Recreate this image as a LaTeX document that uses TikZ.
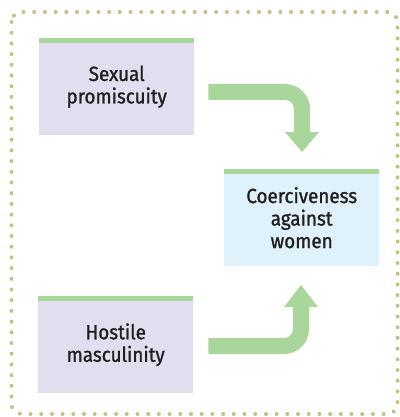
\documentclass[tikz,border=0pt]{standalone}
\usepackage{fontspec}
\setmainfont{Fira Sans}[FakeBold=1.2, FakeStretch=0.92]
\definecolor{boxpurple}{HTML}{E0DEEF}
\definecolor{boxblue}{HTML}{DFF1FB}
\definecolor{bargreen}{HTML}{A8D69B}
\definecolor{dotcol}{HTML}{C6BF88}
\definecolor{txt}{HTML}{231F20}
\begin{document}
\begin{tikzpicture}[x=1pt,y=-1pt,
  box/.style={minimum width=155pt, minimum height=97pt, inner sep=0pt, align=center,
    font=\fontsize{20.5}{22.5}\selectfont, text=txt},
  bar/.style={fill=bargreen},
  flow/.style={draw=bargreen, line width=16pt, rounded corners=17pt},
  head/.style={fill=bargreen}]
\useasboundingbox (0,0) rectangle (399,417);
\draw[dotcol, line width=4pt, line cap=round, dash pattern=on 0pt off 10.7pt, rounded corners=10pt]
  (11.5,12) rectangle (397.5,414);
% boxes
\node[box, fill=boxpurple, anchor=north west] (sp) at (39,38) {Sexual\\promiscuity};
\fill[bar] (sp.north west) rectangle ([yshift=-5pt]sp.north east);
\node[box, fill=boxblue, anchor=north west] (cw) at (224,169) {Coerciveness\\against\\women};
\fill[bar] (cw.north west) rectangle ([yshift=-5pt]cw.north east);
\node[box, fill=boxpurple, anchor=north west] (hm) at (38,296) {Hostile\\masculinity};
\fill[bar] (hm.north west) rectangle ([yshift=-5pt]hm.north east);
% top arrow
\coordinate (a1) at ([xshift=14pt]sp.east |- 0,92);
\coordinate (a1c) at (302,92);
\coordinate (a1e) at (302,133);
\draw[flow] (a1) -- (a1c) -- (a1e);
\fill[head] (285,132) -- (319,132) -- (302,152) -- cycle;
% bottom arrow
\coordinate (b1) at ([xshift=15pt]hm.east |- 0,346);
\coordinate (b1c) at (301,346);
\coordinate (b1e) at (301,306);
\draw[flow] (b1) -- (b1c) -- (b1e);
\fill[head] (284,307) -- (318,307) -- (301,285) -- cycle;
\end{tikzpicture}
\end{document}
